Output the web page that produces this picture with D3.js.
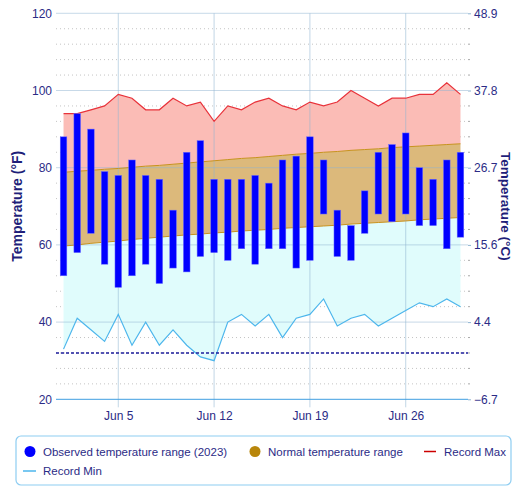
<!DOCTYPE html>
<html><head><meta charset="utf-8">
<script src="https://cdn.jsdelivr.net/npm/d3@7"></script>
<style>
html,body{margin:0;padding:0;background:#fff;}
svg{display:block;font-family:"Liberation Sans",Arial,sans-serif;}
</style></head>
<body><svg id="chart" width="516" height="486"></svg>
<script>
// ---- data (June 2023) ----
const days = [1,2,3,4,5,6,7,8,9,10,11,12,13,14,15,16,17,18,19,20,21,22,23,24,25,26,27,28,29,30];
const obsMax = [88,94,90,79,78,82,78,77,69,84,87,77,77,77,78,76,82,83,88,82,69,65,74,84,86,89,80,77,82,84];
const obsMin = [52,58,63,55,49,52,55,50,54,53,57,58,56,59,55,59,59,54,56,68,57,56,63,68,66,68,65,65,59,62];
const normMax = [78.8,79.1,79.3,79.6,79.8,80.1,80.4,80.6,80.9,81.2,81.5,81.8,82.1,82.4,82.6,82.9,83.2,83.5,83.7,84.0,84.2,84.5,84.7,84.9,85.2,85.4,85.6,85.8,86.0,86.2];
const normMin = [59.7,60.0,60.4,60.7,61.0,61.4,61.7,62.0,62.3,62.6,62.8,63.1,63.3,63.6,63.8,64.0,64.3,64.5,64.7,64.9,65.1,65.4,65.6,65.8,66.0,66.2,66.5,66.7,66.9,67.1];
const recMax = [94,94,95,96,99,98,95,95,98,96,97,92,96,95,97,98,96,95,97,96,97,100,98,96,98,98,99,99,102,99];
const recMin = [33,41,38,35,42,34,40,34,38,34,31,30,40,42,39,42,36,41,42,46,39,41,42,39,41,43,45,44,46,44];
const xTickDays = [5,12,19,26];
const xTickLabels = ["Jun 5","Jun 12","Jun 19","Jun 26"];
const yTicksF = [20,40,60,80,100,120];
const freezing = 32;
const legendItems = ["Observed temperature range (2023)","Normal temperature range","Record Max","Record Min"];

const rows = days.map((d,i)=>({d, oMax:obsMax[i], oMin:obsMin[i], nMax:normMax[i], nMin:normMin[i], rMax:recMax[i], rMin:recMin[i]}));

const L=56, R=468, T=13.3, B=399.3;
const svg = d3.select("#chart");
const x = d3.scaleLinear().domain([0.45,30.55]).range([L,R]);
const y = d3.scaleLinear().domain([20,120]).range([B,T]);
const toC = f => (f-32)/1.8;
const yC = d3.scaleLinear().domain([toC(20),toC(120)]).range([B,T]);

const navy = "#2b2b86";

// minor dotted grid
const minor = d3.range(20,121,4).filter(v=>v%20!==0);
svg.append("g").selectAll("line").data(minor).join("line")
  .attr("x1",L).attr("x2",R).attr("y1",d=>y(d)).attr("y2",d=>y(d))
  .attr("stroke","#c4c4c4").attr("stroke-width",1).attr("stroke-dasharray","1,3");

// areas
const line = (acc)=>d3.line().x(r=>x(r.d)).y(r=>y(acc(r)));
svg.append("path").datum(rows)
  .attr("d", d3.area().x(r=>x(r.d)).y0(r=>y(r.nMax)).y1(r=>y(r.rMax)))
  .attr("fill","#fbbcb6");
svg.append("path").datum(rows)
  .attr("d", d3.area().x(r=>x(r.d)).y0(r=>y(r.rMin)).y1(r=>y(r.nMin)))
  .attr("fill","#e0fcfc");
svg.append("path").datum(rows)
  .attr("d", d3.area().x(r=>x(r.d)).y0(r=>y(r.nMin)).y1(r=>y(r.nMax)))
  .attr("fill","#dcb97b");

// major grid
svg.append("g").selectAll("line").data(yTicksF.filter(v=>v>20)).join("line")
  .attr("x1",L).attr("x2",R).attr("y1",d=>y(d)).attr("y2",d=>y(d))
  .attr("stroke","#8fb4d2").attr("stroke-opacity",0.5).attr("stroke-width",1);
svg.append("g").selectAll("line").data(xTickDays).join("line")
  .attr("x1",d=>x(d)).attr("x2",d=>x(d)).attr("y1",T).attr("y2",B+8)
  .attr("stroke","#8fb4d2").attr("stroke-opacity",0.55).attr("stroke-width",1);

// normal edges
svg.append("path").datum(rows).attr("d",line(r=>r.nMax)).attr("fill","none").attr("stroke","#c8921e").attr("stroke-width",1);
svg.append("path").datum(rows).attr("d",line(r=>r.nMin)).attr("fill","none").attr("stroke","#c8921e").attr("stroke-width",1);
// record lines
svg.append("path").datum(rows).attr("d",line(r=>r.rMax)).attr("fill","none").attr("stroke","#e8323a").attr("stroke-width",1.2);
svg.append("path").datum(rows).attr("d",line(r=>r.rMin)).attr("fill","none").attr("stroke","#4db6ec").attr("stroke-width",1.2);

// freezing line
svg.append("line").attr("x1",L).attr("x2",R).attr("y1",y(freezing)).attr("y2",y(freezing))
  .attr("stroke","#1c1c9c").attr("stroke-width",1.3).attr("stroke-dasharray","3,2");

// bars
svg.append("g").selectAll("rect").data(rows).join("rect")
  .attr("x",r=>x(r.d)-3.3).attr("width",6.6)
  .attr("y",r=>y(r.oMax)).attr("height",r=>y(r.oMin)-y(r.oMax))
  .attr("fill","#0000ff").attr("stroke","#6a6aff").attr("stroke-width",0.5);

// x axis
svg.append("line").attr("x1",L).attr("x2",R).attr("y1",B).attr("y2",B).attr("stroke","#3f9ee2").attr("stroke-width",1);
const xAxis = svg.append("g").attr("transform",`translate(0,${B})`)
  .call(d3.axisBottom(x).tickValues(xTickDays).tickFormat((d,i)=>xTickLabels[i]).tickSize(0).tickPadding(12));
xAxis.select(".domain").remove();
xAxis.selectAll("text").attr("fill",navy).attr("font-size",12).attr("font-family","Liberation Sans, Arial");

// left axis
const yAxis = svg.append("g").attr("transform",`translate(${L},0)`)
  .call(d3.axisLeft(y).tickValues(yTicksF).tickSize(0).tickPadding(4));
yAxis.select(".domain").remove();
yAxis.selectAll("text").attr("fill",navy).attr("font-size",12).attr("font-family","Liberation Sans, Arial");

// right axis
const yAxisR = svg.append("g").attr("transform",`translate(${R},0)`)
  .call(d3.axisRight(yC).tickValues(yTicksF.map(toC)).tickFormat(d=>d.toFixed(1).replace("-","\u2212")).tickSize(3).tickPadding(3));
yAxisR.select(".domain").remove();
yAxisR.selectAll("line").attr("stroke","#8fb4d2");
yAxisR.selectAll("text").attr("fill",navy).attr("font-size",12).attr("font-family","Liberation Sans, Arial");
svg.append("g").selectAll("line").data(minor).join("line")
  .attr("x1",R).attr("x2",R+2).attr("y1",d=>y(d)).attr("y2",d=>y(d))
  .attr("stroke","#aaaaaa").attr("stroke-width",1);

// axis titles
svg.append("text").attr("transform",`translate(22,${(T+B)/2}) rotate(-90)`)
  .attr("text-anchor","middle").attr("font-weight","bold").attr("font-size",14).attr("fill","#1f1f7a")
  .text("Temperature (°F)");
svg.append("text").attr("transform",`translate(501,${(T+B)/2}) rotate(90)`)
  .attr("text-anchor","middle").attr("font-weight","bold").attr("font-size",13.5).attr("fill","#1f1f7a")
  .text("Temperature (°C)");

// legend
const lg = svg.append("g");
lg.append("rect").attr("x",16).attr("y",436).attr("width",495).attr("height",49).attr("rx",5)
  .attr("fill","#fff").attr("stroke","#8ecdf2").attr("stroke-width",1.2);
const ly1 = 451.5, ly2 = 471;
lg.append("circle").attr("cx",30).attr("cy",ly1).attr("r",5.5).attr("fill","#0000ff");
lg.append("circle").attr("cx",255).attr("cy",ly1).attr("r",5.5).attr("fill","#b8860b");
lg.append("line").attr("x1",424).attr("x2",436).attr("y1",ly1).attr("y2",ly1).attr("stroke","#cc0000").attr("stroke-width",1.5);
lg.append("line").attr("x1",23).attr("x2",36).attr("y1",ly2).attr("y2",ly2).attr("stroke","#4db6ec").attr("stroke-width",1.5);
const lt = [[43,ly1],[268,ly1],[444,ly1],[43,ly2]];
lg.selectAll("text").data(legendItems).join("text")
  .attr("x",(d,i)=>lt[i][0]).attr("y",(d,i)=>lt[i][1]+4.2)
  .attr("font-size",11.5).attr("fill",navy).text(d=>d);
</script></body></html>
